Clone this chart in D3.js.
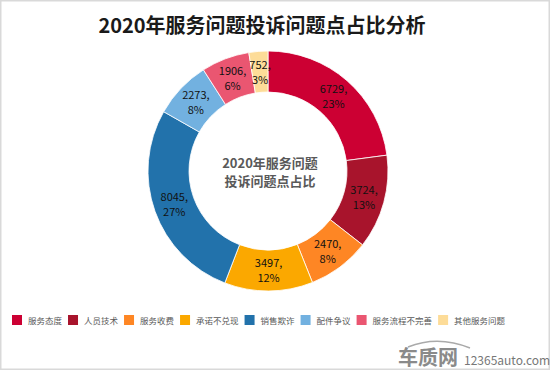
<!DOCTYPE html>
<html>
<head>
<meta charset="utf-8">
<script src="https://cdn.jsdelivr.net/npm/d3@7"></script>
<style>
  body { margin: 0; background: #fff; }
  text { font-family: "Noto Sans CJK SC", "Noto Sans", sans-serif; }
</style>
</head>
<body>
<div id="chart"></div>
<script>
// Data
var categories = ["服务态度", "人员技术", "服务收费", "承诺不兑现", "销售欺诈", "配件争议", "服务流程不完善", "其他服务问题"];
var counts = [6729, 3724, 2470, 3497, 8045, 2273, 1906, 752];
var colors = ["#cc0033", "#a8142c", "#fe8624", "#fba800", "#2272ab", "#72b1e0", "#ea5671", "#fddc98"];

var width = 550, height = 370;
var cx = 268, cy = 171, outerR = 120, innerR = 79;

var svg = d3.select("#chart")
    .append("svg")
    .attr("width", width)
    .attr("height", height);

// frame
svg.append("rect")
    .attr("x", 0.75).attr("y", 0.75)
    .attr("width", width - 1.5).attr("height", height - 1.5)
    .style("fill", "#fff")
    .style("stroke", "#d9d9d9")
    .style("stroke-width", 1.5);

// title
svg.append("text")
    .attr("x", 262)
    .attr("y", 33)
    .attr("text-anchor", "middle")
    .style("font-size", "20px")
    .style("font-weight", "bold")
    .style("fill", "#1a1a1a")
    .text("2020年服务问题投诉问题点占比分析");

var total = d3.sum(counts);
var data = categories.map(function(c, i) { return { name: c, value: counts[i], color: colors[i] }; });

var pie = d3.pie().value(function(d) { return d.value; }).sort(null);
var arc = d3.arc().innerRadius(innerR).outerRadius(outerR);

var g = svg.append("g").attr("transform", "translate(" + cx + "," + cy + ")");

g.selectAll("path")
    .data(pie(data))
    .enter()
    .append("path")
    .attr("d", arc)
    .style("fill", function(d) { return d.data.color; })
    .style("stroke", "#fff")
    .style("stroke-width", 0.8);

// data labels: value, and percentage
var labels = g.selectAll("text.lbl")
    .data(pie(data))
    .enter()
    .append("text")
    .attr("class", "lbl")
    .attr("transform", function(d) { return "translate(" + arc.centroid(d) + ")"; })
    .attr("text-anchor", "middle")
    .style("font-size", "11px")
    .style("fill", "#111");

labels.append("tspan")
    .attr("x", 0).attr("y", -3)
    .text(function(d) { return d.data.value + ","; });
labels.append("tspan")
    .attr("x", 0).attr("y", 12)
    .text(function(d) { return Math.round(d.data.value / total * 100) + "%"; });

// center text
var center = g.append("text")
    .attr("text-anchor", "middle")
    .style("font-size", "13px")
    .style("font-weight", "bold")
    .style("fill", "#595959");
center.append("tspan").attr("x", 2).attr("y", -3).text("2020年服务问题");
center.append("tspan").attr("x", 2).attr("y", 15).text("投诉问题点占比");

// legend
var legend = svg.append("g").attr("transform", "translate(12,315)");
var lx = 0;
data.forEach(function(d) {
    var item = legend.append("g").attr("transform", "translate(" + lx + ",0)");
    item.append("rect")
        .attr("width", 10).attr("height", 10)
        .style("fill", d.color);
    var t = item.append("text")
        .attr("x", 16).attr("y", 8.5)
        .style("font-size", "8.5px")
        .style("fill", "#595959")
        .text(d.name);
    lx += 16 + t.node().getComputedTextLength() + 6;
});

// watermark
var wm = svg.append("g").attr("transform", "translate(398,365)");
wm.append("path")
    .attr("d", "M10,-18 Q40,-30 72,-17")
    .style("fill", "none")
    .style("stroke", "#aaa")
    .style("stroke-width", 1.5);
wm.append("text")
    .attr("x", 0).attr("y", 0)
    .style("font-size", "20px")
    .style("font-weight", "bold")
    .style("fill", "#8a8a8a")
    .text("车质网");
wm.append("text")
    .attr("x", 66).attr("y", 0)
    .style("font-size", "12px")
    .style("fill", "#777")
    .text("12365auto.com");
</script>
</body>
</html>
